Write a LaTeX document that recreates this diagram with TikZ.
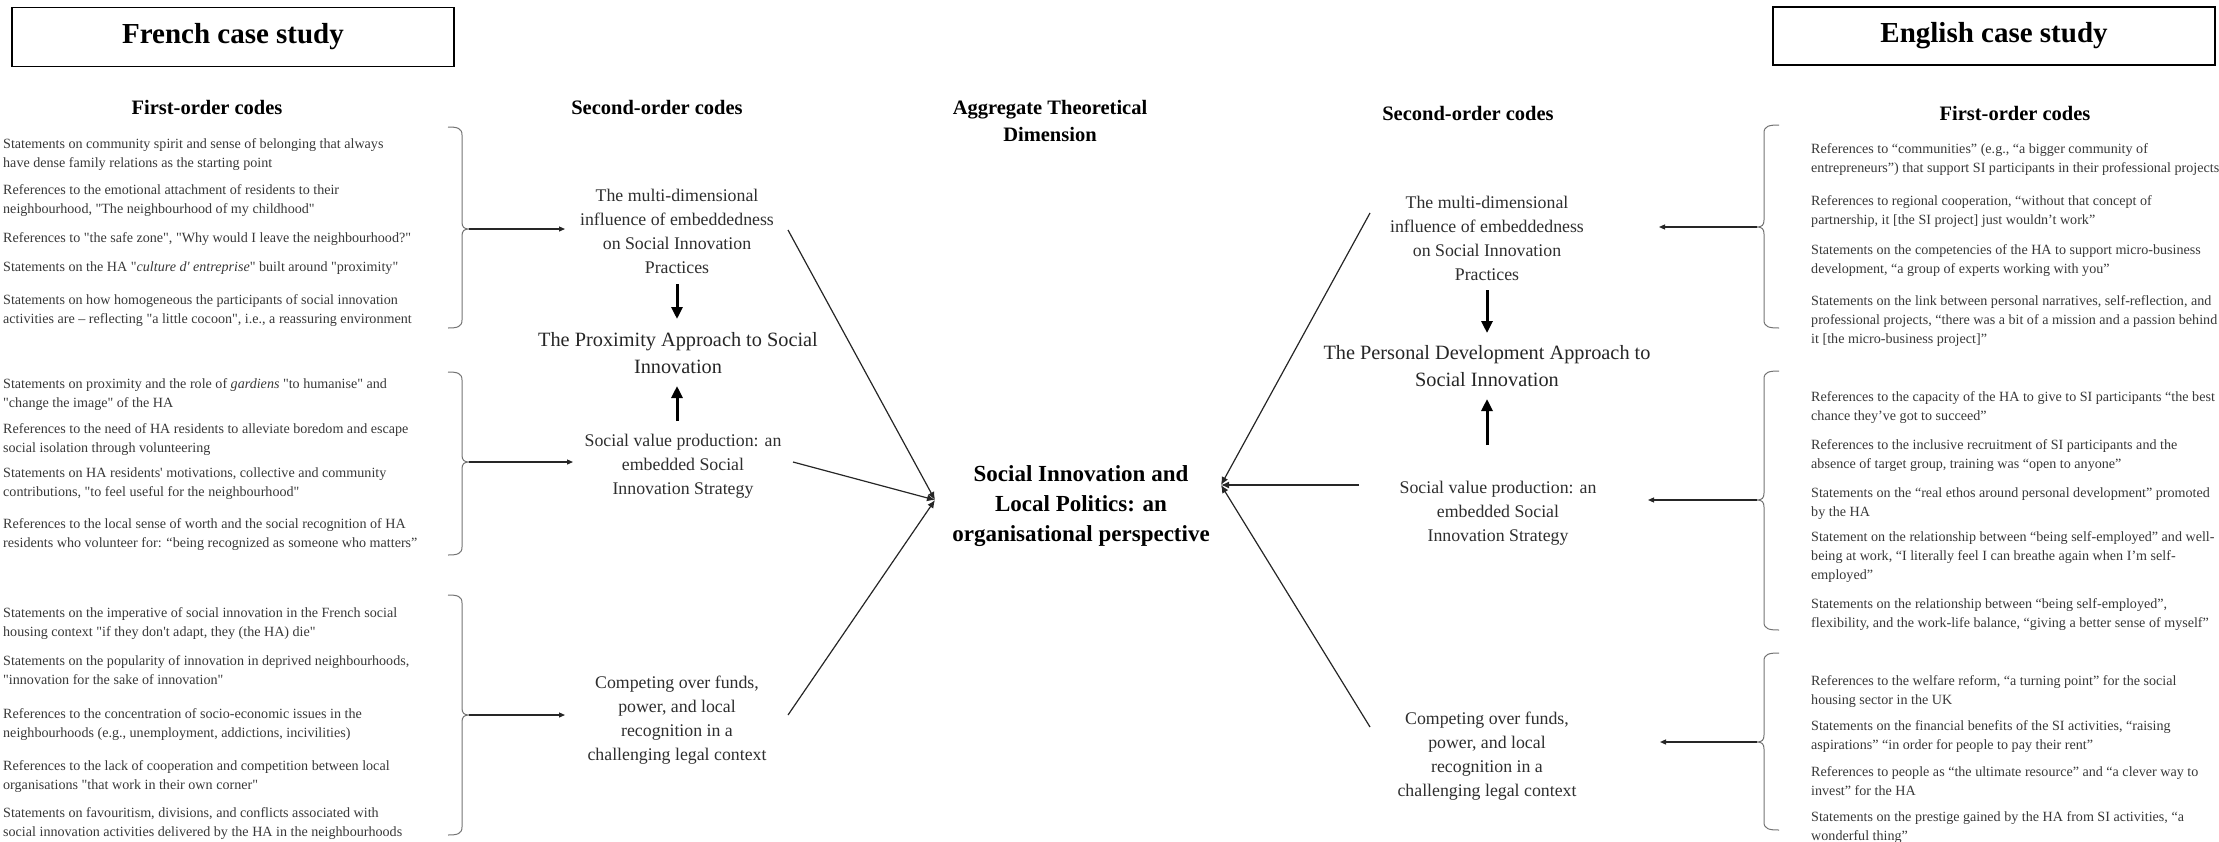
\documentclass[tikz,border=0pt]{standalone}
\usepackage{fontspec}
\setmainfont{Liberation Serif}[Ligatures=TeXOff]
\usetikzlibrary{arrows.meta}
\newcommand{\bracketR}[4]{%
  \draw[bracestyle] (448,#2) .. controls (457,#2) and (462,#2+1) .. (462,#2+8) -- (462,#3-7) .. controls (462,#3-2) and (464,#3) .. (469,#3) .. controls (464,#3) and (462,#3+2) .. (462,#3+7) -- (462,#4-8) .. controls (462,#4-1) and (457,#4) .. (448,#4);
  \coordinate (#1) at (469,#3);}
\newcommand{\bracketL}[4]{%
  \draw[bracestyle] (1779,#2) .. controls (1769,#2) and (1764,#2+1) .. (1764,#2+8) -- (1764,#3-7) .. controls (1764,#3-2) and (1762,#3) .. (1757,#3) .. controls (1762,#3) and (1764,#3+2) .. (1764,#3+7) -- (1764,#4-8) .. controls (1764,#4-1) and (1769,#4) .. (1779,#4);
  \coordinate (#1) at (1757,#3);}
\begin{document}
\begin{tikzpicture}[x=1pt,y=-1pt,
  fo/.style={anchor=north west, inner sep=0pt, align=left, font=\fontsize{14.1}{19}\selectfont, text=black!78},
  so/.style={anchor=north, inner sep=0pt, align=center, font=\fontsize{17.8}{24}\selectfont, text=black!82},
  appr/.style={anchor=north, inner sep=0pt, align=center, font=\fontsize{20.3}{27}\selectfont, text=black!85},
  head/.style={anchor=base, inner sep=0pt, font=\bfseries\fontsize{20.5}{27}\selectfont},
  casebox/.style={draw, line width=1.3pt, minimum width=442pt, minimum height=59pt, inner sep=0pt, font=\bfseries\fontsize{29}{34}\selectfont},
  bracestyle/.style={draw=black!55, line width=1pt},
  feed/.style={draw=black!85, line width=1.2pt, -{Triangle[length=6pt,width=5pt]}},
  bigarrow/.style={draw=black, line width=3pt, -{Triangle[length=12pt,width=11pt]}},
  conv/.style={draw=black!85, line width=1.2pt, -{Latex[length=8pt,width=7pt]}}
]
\useasboundingbox (0,0) rectangle (2219,841);

% case study boxes
\node[casebox] (fr) at (233,37) {French case study};
\node[casebox, minimum height=58pt] (en) at (1994,36) {English case study};

% headings
\node[head] (fo1h) at (207,114) {First-order codes};
\node[head] (so1h) at (657,114) {Second-order codes};
\node[anchor=north, inner sep=0pt, align=center, font=\bfseries\fontsize{20.5}{27}\selectfont] (agg) at (1050,99.6) {Aggregate Theoretical\\Dimension};
\node[head] (so2h) at (1468,120) {Second-order codes};
\node[head] (fo2h) at (2015,120) {First-order codes};

% French first-order codes
\node[fo] (f11) at (3,138) {Statements on community spirit and sense of belonging that always\\have dense family relations as the starting point};
\node[fo] (f12) at (3,184) {References to the emotional attachment of residents to their\\neighbourhood, "The neighbourhood of my childhood"};
\node[fo] (f13) at (3,232) {References to "the safe zone", "Why would I leave the neighbourhood?"};
\node[fo] (f14) at (3,262) {Statements on the HA "\textit{culture d' entreprise}" built around "proximity"};
\node[fo] (f15) at (3,294) {Statements on how homogeneous the participants of social innovation\\activities are – reflecting "a little cocoon", i.e., a reassuring environment};

\node[fo] (f21) at (3,378) {Statements on proximity and the role of \textit{gardiens} "to humanise" and\\"change the image" of the HA};
\node[fo] (f22) at (3,423) {References to the need of HA residents to alleviate boredom and escape\\social isolation through volunteering};
\node[fo] (f23) at (3,468) {Statements on HA residents' motivations, collective and community\\contributions, "to feel useful for the neighbourhood"};
\node[fo] (f24) at (3,518) {References to the local sense of worth and the social recognition of HA\\residents who volunteer for: “being recognized as someone who matters”};

\node[fo] (f31) at (3,607) {Statements on the imperative of social innovation in the French social\\housing context "if they don't adapt, they (the HA) die"};
\node[fo] (f32) at (3,655) {Statements on the popularity of innovation in deprived neighbourhoods,\\"innovation for the sake of innovation"};
\node[fo] (f33) at (3,708) {References to the concentration of socio-economic issues in the\\neighbourhoods (e.g., unemployment, addictions, incivilities)};
\node[fo] (f34) at (3,760) {References to the lack of cooperation and competition between local\\organisations "that work in their own corner"};
\node[fo] (f35) at (3,807) {Statements on favouritism, divisions, and conflicts associated with\\social innovation activities delivered by the HA in the neighbourhoods};

% English first-order codes
\node[fo] (e11) at (1811,143) {References to “communities” (e.g., “a bigger community of\\entrepreneurs”) that support SI participants in their professional projects};
\node[fo] (e12) at (1811,195) {References to regional cooperation, “without that concept of\\partnership, it [the SI project] just wouldn’t work”};
\node[fo] (e13) at (1811,244) {Statements on the competencies of the HA to support micro-business\\development, “a group of experts working with you”};
\node[fo] (e14) at (1811,295) {Statements on the link between personal narratives, self-reflection, and\\professional projects, “there was a bit of a mission and a passion behind\\it [the micro-business project]”};

\node[fo] (e21) at (1811,391) {References to the capacity of the HA to give to SI participants “the best\\chance they’ve got to succeed”};
\node[fo] (e22) at (1811,439) {References to the inclusive recruitment of SI participants and the\\absence of target group, training was “open to anyone”};
\node[fo] (e23) at (1811,488) {Statements on the “real ethos around personal development” promoted\\by the HA};
\node[fo] (e24) at (1811,531) {Statement on the relationship between “being self-employed” and well-\\being at work, “I literally feel I can breathe again when I’m self-\\employed”};
\node[fo] (e25) at (1811,598) {Statements on the relationship between “being self-employed”,\\flexibility, and the work-life balance, “giving a better sense of myself”};

\node[fo] (e31) at (1811,675) {References to the welfare reform, “a turning point” for the social\\housing sector in the UK};
\node[fo] (e32) at (1811,720) {Statements on the financial benefits of the SI activities, “raising\\aspirations” “in order for people to pay their rent”};
\node[fo] (e33) at (1811,766) {References to people as “the ultimate resource” and “a clever way to\\invest” for the HA};
\node[fo] (e34) at (1811,811) {Statements on the prestige gained by the HA from SI activities, “a\\wonderful thing”};

% braces
\bracketR{bL1}{127}{229}{328}
\bracketR{bL2}{372}{462}{555}
\bracketR{bL3}{595}{715}{835}
\bracketL{bR1}{125}{227}{328}
\bracketL{bR2}{371}{500}{630}
\bracketL{bR3}{653}{742}{830}

% second-order codes, French
\node[so] (mL) at (677,188.6) {The multi-dimensional\\influence of embeddedness\\on Social Innovation\\Practices};
\node[appr] (pL) at (678,332.7) {The Proximity Approach to Social\\Innovation};
\node[so] (sL) at (683,433.6) {Social value production: an\\embedded Social\\Innovation Strategy};
\node[so] (cL) at (677,675.6) {Competing over funds,\\power, and local\\recognition in a\\challenging legal context};

% second-order codes, English
\node[so] (mR) at (1487,195.6) {The multi-dimensional\\influence of embeddedness\\on Social Innovation\\Practices};
\node[appr] (pR) at (1487,345.7) {The Personal Development Approach to\\Social Innovation};
\node[so] (sR) at (1498,480.6) {Social value production: an\\embedded Social\\Innovation Strategy};
\node[so] (cR) at (1487,711.6) {Competing over funds,\\power, and local\\recognition in a\\challenging legal context};

% aggregate dimension
\node[anchor=north, inner sep=0pt, align=center, font=\bfseries\fontsize{23}{30}\selectfont] (agd) at (1081,465.7) {Social Innovation and\\Local Politics: an\\organisational perspective};

% feed arrows
\coordinate (tL1) at (565,229);
\coordinate (tL2) at (573,462);
\coordinate (tL3) at (565,715);
\coordinate (tR1) at (1659,227);
\coordinate (tR2) at (1648,500);
\coordinate (tR3) at (1660,742);
\draw[feed] (bL1) -- (tL1);
\draw[feed] (bL2) -- (tL2);
\draw[feed] (bL3) -- (tL3);
\draw[feed] (bR1) -- (tR1);
\draw[feed] (bR2) -- (tR2);
\draw[feed] (bR3) -- (tR3);

% thick arrows
\coordinate (dL0) at (677,284); \coordinate (dL1) at (677,319);
\coordinate (uL0) at (677,421); \coordinate (uL1) at (677,386);
\coordinate (dR0) at (1487,290); \coordinate (dR1) at (1487,333);
\coordinate (uR0) at (1487,445); \coordinate (uR1) at (1487,399);
\draw[bigarrow] (dL0) -- (dL1);
\draw[bigarrow] (uL0) -- (uL1);
\draw[bigarrow] (dR0) -- (dR1);
\draw[bigarrow] (uR0) -- (uR1);

% convergence lines
\coordinate (hubL) at (935,500);
\coordinate (hubR) at (1221,485);
\coordinate (sL1) at (788,230);
\coordinate (sL2) at (793,462);
\coordinate (sL3) at (788,715);
\coordinate (sR1) at (1370,213);
\coordinate (sR2) at (1359,485);
\coordinate (sR3) at (1370,727);
\draw[conv] (sL1) -- (hubL);
\draw[conv] (sL2) -- (hubL);
\draw[conv] (sL3) -- (hubL);
\draw[conv] (sR1) -- (hubR);
\draw[conv] (sR2) -- (hubR);
\draw[conv] (sR3) -- (hubR);
\end{tikzpicture}
\end{document}
